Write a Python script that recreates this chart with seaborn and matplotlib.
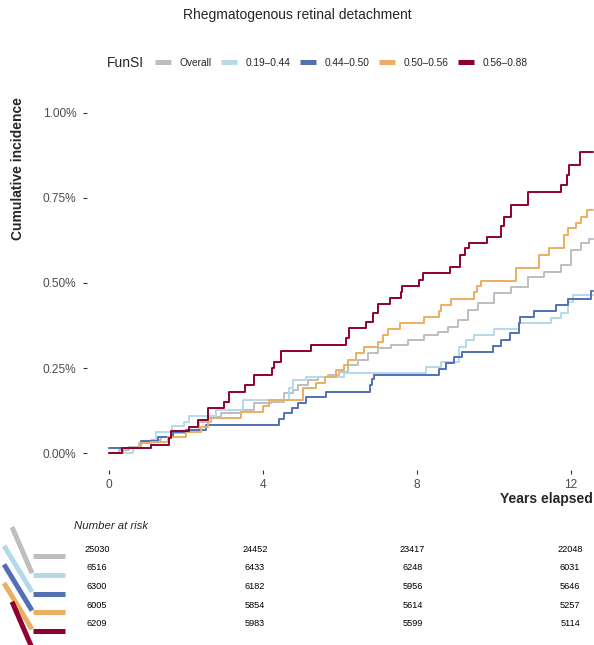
import matplotlib
matplotlib.use("Agg")
import matplotlib.pyplot as plt
from matplotlib.lines import Line2D
from matplotlib.ticker import FuncFormatter
import numpy as np
import pandas as pd
import seaborn as sns

# ---- data (years elapsed, cumulative incidence in %) ----
groups = ["Overall", "0.19–0.44", "0.44–0.50", "0.50–0.56", "0.56–0.88"]
colors = ["#BEBEBE", "#B5D8EA", "#5171B3", "#EBAE62", "#8E0030"]
follow_up_end = 12.58

overall_t = [0, 0.26, 0.52, 0.78, 1.09, 1.35, 1.61, 2.00, 2.34, 2.65, 2.91, 3.43, 3.77, 4.21,
             4.55, 4.78, 4.91, 5.17, 5.43, 5.69, 5.97, 6.21, 6.47, 6.73, 6.99, 7.32, 7.77,
             8.18, 8.55, 8.81, 9.06, 9.32, 9.58, 10.00, 10.44, 10.88, 11.30, 11.74, 12.00,
             12.26, 12.47]
overall_ci = [0, 0.010, 0.018, 0.030, 0.039, 0.048, 0.059, 0.068, 0.092, 0.107, 0.118, 0.127,
              0.147, 0.151, 0.177, 0.186, 0.200, 0.215, 0.224, 0.230, 0.239, 0.259, 0.274,
              0.294, 0.309, 0.318, 0.332, 0.347, 0.356, 0.371, 0.391, 0.420, 0.441, 0.470,
              0.488, 0.517, 0.532, 0.553, 0.597, 0.617, 0.629]

q1_t = [0, 0.62, 1.09, 1.22, 1.64, 1.95, 2.08, 2.78, 3.48, 4.68, 4.78, 5.12, 6.10, 8.23,
        8.62, 9.09, 9.27, 9.48, 10.00, 10.65, 11.48, 11.74, 11.92, 12.05]
q1_ci = [0, 0.016, 0.036, 0.062, 0.080, 0.093, 0.109, 0.127, 0.156, 0.192, 0.215, 0.224,
         0.235, 0.253, 0.268, 0.312, 0.333, 0.347, 0.365, 0.382, 0.397, 0.411, 0.444, 0.464]

q2_t = [0, 0.83, 1.27, 1.66, 2.00, 2.52, 4.42, 4.55, 4.75, 4.91, 5.12, 5.64, 6.78, 6.84,
        6.89, 8.57, 8.75, 8.97, 9.17, 9.97, 10.18, 10.42, 10.65, 10.69, 11.04, 11.61, 11.92,
        12.52]
q2_ci = [0.015, 0.036, 0.049, 0.063, 0.068, 0.082, 0.102, 0.117, 0.133, 0.147, 0.165, 0.181,
         0.200, 0.217, 0.230, 0.246, 0.264, 0.283, 0.298, 0.316, 0.332, 0.353, 0.382, 0.400,
         0.418, 0.435, 0.452, 0.477]

q3_t = [0, 0.36, 0.83, 1.09, 1.53, 2.00, 2.39, 2.57, 3.43, 4.00, 4.16, 5.04, 5.38, 5.61,
        5.90, 6.11, 6.20, 6.42, 6.63, 6.98, 7.11, 7.24, 7.57, 8.19, 8.58, 8.62, 8.88, 9.47,
        9.56, 9.66, 10.57, 11.18, 11.44, 11.83, 11.93, 12.13, 12.26, 12.43]
q3_ci = [0, 0.016, 0.030, 0.034, 0.049, 0.063, 0.077, 0.103, 0.121, 0.139, 0.155, 0.191,
         0.206, 0.225, 0.243, 0.259, 0.275, 0.293, 0.311, 0.327, 0.347, 0.364, 0.381, 0.399,
         0.418, 0.435, 0.453, 0.472, 0.491, 0.506, 0.543, 0.582, 0.602, 0.641, 0.660, 0.677,
         0.694, 0.714]

q4_t = [0, 0.33, 1.09, 1.56, 1.61, 2.08, 2.31, 2.57, 2.99, 3.12, 3.53, 3.77, 4.23, 4.29,
        4.47, 5.25, 6.16, 6.24, 6.68, 6.86, 6.98, 7.31, 7.58, 7.61, 8.06, 8.17, 8.86, 9.12,
        9.25, 9.36, 9.82, 10.18, 10.26, 10.44, 10.88, 11.74, 11.90, 11.95, 12.23]
q4_ci = [0, 0.016, 0.024, 0.045, 0.065, 0.077, 0.098, 0.133, 0.151, 0.180, 0.200, 0.230,
         0.250, 0.268, 0.300, 0.318, 0.337, 0.367, 0.385, 0.412, 0.438, 0.455, 0.474, 0.492,
         0.509, 0.528, 0.546, 0.582, 0.602, 0.618, 0.636, 0.667, 0.693, 0.729, 0.767, 0.787,
         0.817, 0.846, 0.884]

risk_times = [0, 4, 8, 12]
risk_overall = [25030, 24452, 23417, 22048]
risk_q1 = [6516, 6433, 6248, 6031]
risk_q2 = [6300, 6182, 5956, 5646]
risk_q3 = [6005, 5854, 5614, 5257]
risk_q4 = [6209, 5983, 5599, 5114]

times = [overall_t, q1_t, q2_t, q3_t, q4_t]
cis = [overall_ci, q1_ci, q2_ci, q3_ci, q4_ci]
risks = [risk_overall, risk_q1, risk_q2, risk_q3, risk_q4]

# long table, each curve carried flat to end of follow-up
frames = []
for g, t, ci in zip(groups, times, cis):
    frames.append(pd.DataFrame({"years": list(t) + [follow_up_end],
                                "ci": list(ci) + [ci[-1]],
                                "group": g}))
df = pd.concat(frames, ignore_index=True)

sns.set_theme(style="white")
plt.rcParams["font.family"] = ["Liberation Sans", "DejaVu Sans"]

W, H = 594, 645
fig = plt.figure(figsize=(W / 100, H / 100), dpi=100)

# main panel (pixel box: x 87..594, y 95.5..470)
ax = fig.add_axes([87 / W, 1 - 470 / H, (W - 87) / W, (470 - 95.5) / H])
sns.lineplot(data=df, x="years", y="ci", hue="group", hue_order=groups,
             palette=dict(zip(groups, colors)), drawstyle="steps-post",
             linewidth=1.4, estimator=None, errorbar=None, sort=True,
             legend=False, ax=ax)
ax.set_xlim(-0.571, 12.6)
ax.set_ylim(-0.049, 1.05)
ax.set_xticks([0, 4, 8, 12])
ax.set_yticks([0, 0.25, 0.5, 0.75, 1.0])
ax.yaxis.set_major_formatter(FuncFormatter(lambda v, _: f"{v:.2f}%"))
ax.tick_params(axis="both", length=3, width=0.8, color="#333333", labelsize=8.6,
               labelcolor="#4D4D4D", pad=4.5, left=True, bottom=True)
ax.tick_params(axis="x", pad=3.5)
ax.set_xlabel("")
ax.set_ylabel("")
sns.despine(ax=ax, left=True, bottom=True)
ax.grid(False)

fig.text(18 / W, 1 - 97 / H, "Cumulative incidence", rotation=90, ha="center", va="top",
         fontsize=10, fontweight="bold")
fig.text(593 / W, 1 - 499 / H, "Years elapsed", ha="right", va="center",
         fontsize=10, fontweight="bold")
fig.text(297 / W, 1 - 15 / H, "Rhegmatogenous retinal detachment", ha="center",
         va="center", fontsize=10)

# legend on top
fig.text(107 / W, 1 - 63 / H, "FunSI", ha="left", va="center", fontsize=10)
handles = [Line2D([], [], color=c, lw=3.6, solid_capstyle="butt") for c in colors]
fig.legend(handles, groups, loc="center left", bbox_to_anchor=(155 / W, 1 - 63 / H),
           ncol=5, frameon=False, fontsize=7.3, handlelength=1.6, handletextpad=0.85,
           columnspacing=0.9, borderaxespad=0, borderpad=0)

# risk table (pixel box: y 510..645), rows are 18.67 px apart
ax2 = fig.add_axes([0, 0, 1, 135 / H])
ax2.set_xlim(-2.461, 12.608)
ax2.set_ylim(5.126, -2.105)
ax2.axis("off")
ax2.text(-0.583, -1.25, "Number at risk", ha="left", va="center", fontsize=8.2,
         style="italic")
diag_start = [-2.156, -2.359, -2.359, -2.359, -2.156]
for i, (c, r) in enumerate(zip(colors, risks)):
    for t, n in zip(risk_times, r):
        ax2.text(t, i, str(n), ha="center", va="center", fontsize=6.6, color="black")
    ax2.plot([-1.624, -0.812], [i + 0.38, i + 0.38], color=c, lw=3.6,
             solid_capstyle="butt")
    ax2.plot([diag_start[i], -1.649], [i - 1.19, i + 1.28], color=c, lw=3.6,
             solid_capstyle="butt")

fig.savefig("out.png", dpi=100)
